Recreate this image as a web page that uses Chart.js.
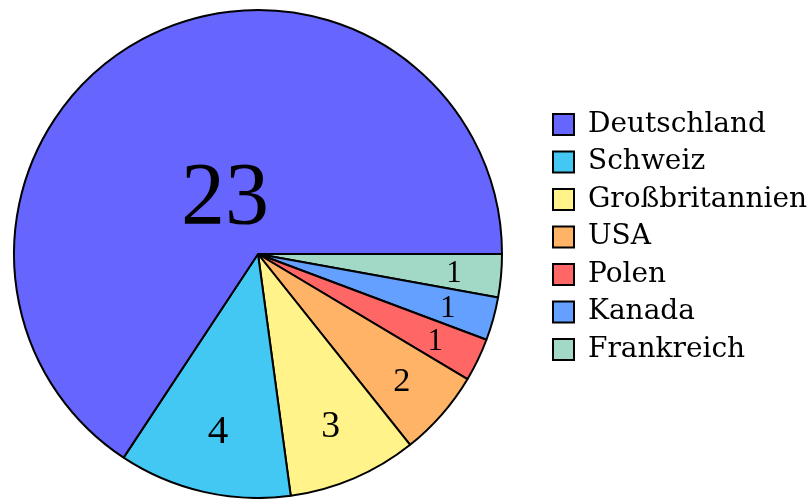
<!DOCTYPE html>
<html><head><meta charset="utf-8">
<script src="https://cdn.jsdelivr.net/npm/chart.js@4"></script>
<style>html,body{margin:0;padding:0;background:#fff}#wrap{width:808px;height:499px;position:relative}</style>
</head><body><div id="wrap"><canvas id="c"></canvas></div>
<script>
const countries = ['Deutschland', 'Schweiz', 'Großbritannien', 'USA', 'Polen', 'Kanada', 'Frankreich'];
const counts = [23, 4, 3, 2, 1, 1, 1];
const sliceColors = ['#6666FF', '#42C8F2', '#FFF38A', '#FFB366', '#FF6666', '#64A0FF', '#A2D9C6'];

const legendFont = {family: 'DejaVu Serif', size: 28};
const boxW = 21, boxX = 553, legPad = 9.5, pieCenterX = 258;
const mc = document.createElement('canvas').getContext('2d');
mc.font = legendFont.size + 'px "' + legendFont.family + '"';
const maxTextW = Math.max(...countries.map(t => mc.measureText(t).width));
const padRight = 808 - 10 - (boxW + legendFont.size / 2 + maxTextW) - boxX;

const pieArea = {
  id: 'pieArea',
  afterLayout(chart) {
    const a = chart.chartArea;
    a.left = 0;
    a.right = 2 * pieCenterX;
    a.width = a.right - a.left;
  }
};

const sliceLabels = {
  id: 'sliceLabels',
  afterDatasetsDraw(chart) {
    const meta = chart.getDatasetMeta(0);
    const vals = chart.data.datasets[0].data;
    const total = vals.reduce((a, b) => a + b, 0);
    const ctx = chart.ctx;
    ctx.save();
    ctx.fillStyle = '#000';
    ctx.textAlign = 'center';
    ctx.textBaseline = 'alphabetic';
    meta.data.forEach((arc, i) => {
      const p = arc.getProps(['x', 'y', 'startAngle', 'endAngle', 'outerRadius'], true);
      const v = vals[i];
      const mid = (p.startAngle + p.endAngle) / 2;
      const d = 0.83 * (1 - v / total) * p.outerRadius;
      const size = Math.min(27.5 + 3.4 * v, 88);
      ctx.font = size + 'px "Liberation Serif"';
      ctx.fillText(String(v), p.x + Math.cos(mid) * d, p.y + Math.sin(mid) * d + 0.338 * size);
    });
    ctx.restore();
  }
};

new Chart(document.getElementById('c'), {
  type: 'pie',
  data: {
    labels: countries.slice().reverse(),
    datasets: [{
      data: counts.slice().reverse(),
      backgroundColor: sliceColors.slice().reverse(),
      borderColor: '#000',
      borderWidth: 2
    }]
  },
  options: {
    responsive: true,
    maintainAspectRatio: false,
    animation: false,
    rotation: 90,
    layout: {padding: {top: 9, bottom: 0, left: 0, right: padRight}},
    plugins: {
      tooltip: {enabled: false},
      legend: {
        position: 'right',
        align: 'start',
        reverse: true,
        title: {display: true, text: ' ', font: {size: 12, lineHeight: 1}, padding: {top: 40, bottom: 40}},
        labels: {boxWidth: boxW, boxHeight: boxW, padding: legPad, color: '#000', font: legendFont}
      }
    }
  },
  plugins: [pieArea, sliceLabels]
});
</script>
</body></html>
